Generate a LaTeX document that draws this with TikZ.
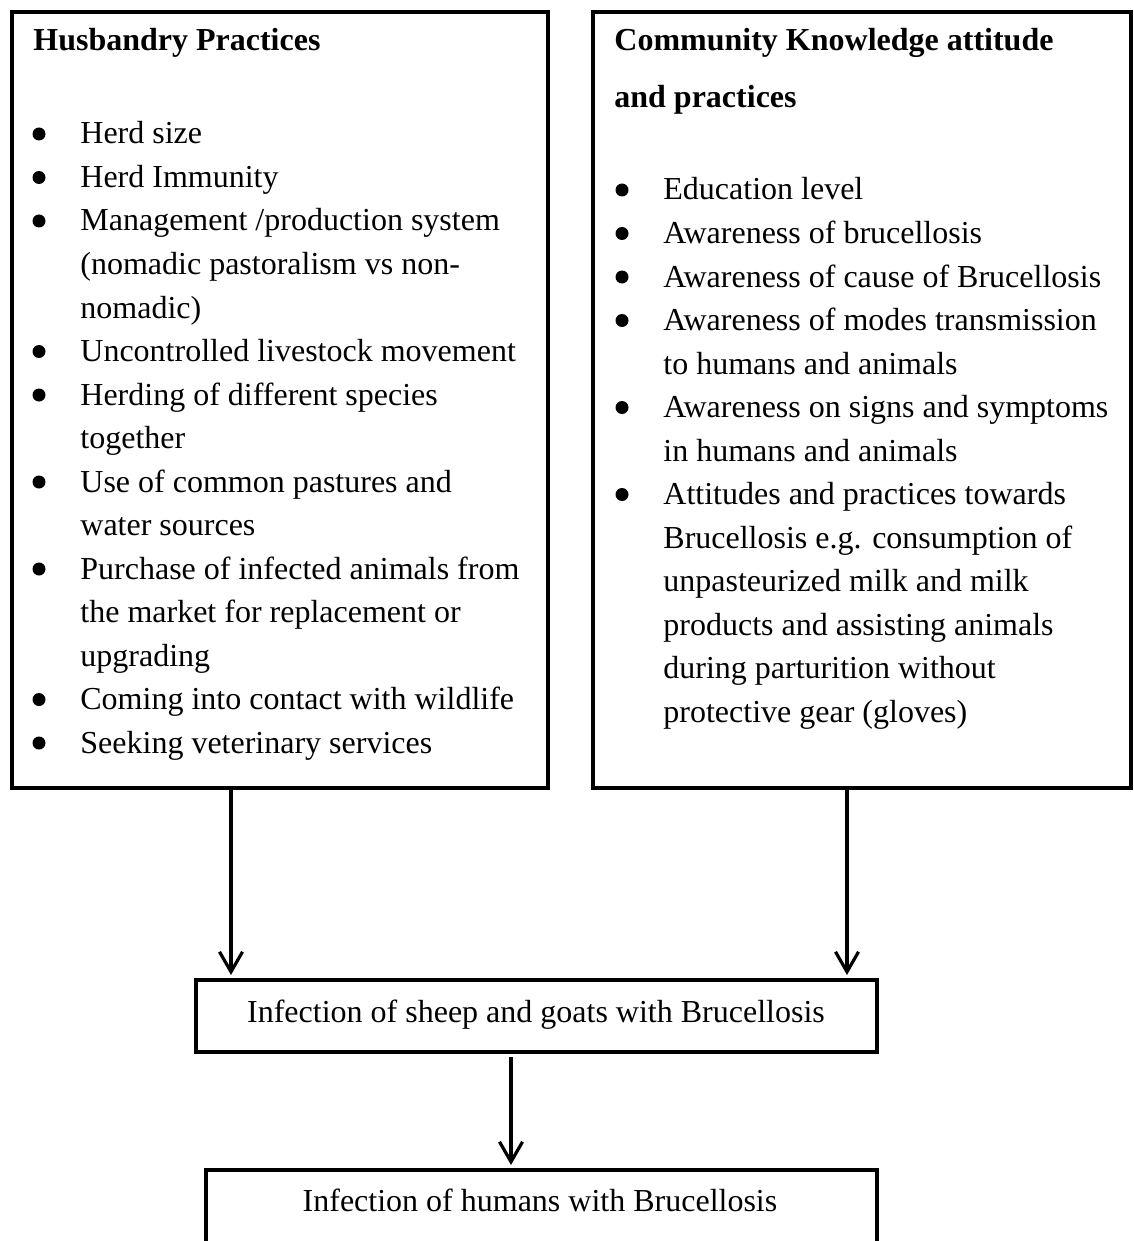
\documentclass[tikz,border=0pt]{standalone}
\usepackage{fontspec}
\setmainfont{Liberation Serif}
\usetikzlibrary{arrows.meta}
\begin{document}
\begin{tikzpicture}[x=0.5pt,y=-0.5pt,
  frame/.style={draw=black, line width=2pt, inner sep=0pt, outer sep=0pt, anchor=north west},
  txt/.style={inner sep=0pt, anchor=base west, font=\fontsize{16}{21.75}\selectfont},
  ttl/.style={inner sep=0pt, anchor=base west, font=\fontsize{16}{21.75}\selectfont\bfseries},
  bul/.style={circle, fill=black, inner sep=0pt, minimum size=6.5pt, yshift=5pt},
  ctr/.style={inner sep=0pt, anchor=base, font=\fontsize{16}{21.75}\selectfont},
  arr/.style={line width=1.6pt, -{Straight Barb[length=10pt,width=11.5pt,line width=1.6pt]}}
]
\useasboundingbox (0,0) rectangle (1134,1241);

% boxes
\node[frame, minimum width=268pt, minimum height=388pt] (lbox) at (12,12) {};
\node[frame, minimum width=269pt, minimum height=388pt] (rbox) at (593,12) {};
\node[frame, line width=1.75pt, minimum width=340.5pt, minimum height=36pt] (mid) at (196,980) {};
\node[frame, line width=1.75pt, minimum width=335.5pt, minimum height=75pt] (bot) at (206,1170) {};

% left box text
\node[ttl] (lt) at (33,51) {Husbandry Practices};
\node[bul] (lb1) at (39,144) {};
\node[txt] (l1) at (80,144) {Herd size};
\node[bul] (lb2) at (39,187.5) {};
\node[txt] (l2) at (80,187.5) {Herd Immunity};
\node[bul] (lb3) at (39,231) {};
\node[txt] (l3) at (80,231) {Management /production system};
\node[txt] (l4) at (80,274.5) {(nomadic pastoralism vs non-};
\node[txt] (l5) at (80,318) {nomadic)};
\node[bul] (lb4) at (39,361.5) {};
\node[txt] (l6) at (80,361.5) {Uncontrolled livestock movement};
\node[bul] (lb5) at (39,405) {};
\node[txt] (l7) at (80,405) {Herding of different species};
\node[txt] (l8) at (80,448.5) {together};
\node[bul] (lb6) at (39,492) {};
\node[txt] (l9) at (80,492) {Use of common pastures and};
\node[txt] (l10) at (80,535.5) {water sources};
\node[bul] (lb7) at (39,579) {};
\node[txt] (l11) at (80,579) {Purchase of infected animals from};
\node[txt] (l12) at (80,622.5) {the market for replacement or};
\node[txt] (l13) at (80,666) {upgrading};
\node[bul] (lb8) at (39,709.5) {};
\node[txt] (l14) at (80,709.5) {Coming into contact with wildlife};
\node[bul] (lb9) at (39,753) {};
\node[txt] (l15) at (80,753) {Seeking veterinary services};

% right box text
\node[ttl] (rt1) at (614,51) {Community Knowledge attitude};
\node[ttl] (rt2) at (614,108) {and practices};
\node[bul] (rb1) at (622,200) {};
\node[txt] (r1) at (663,200) {Education level};
\node[bul] (rb2) at (622,243.5) {};
\node[txt] (r2) at (663,243.5) {Awareness of brucellosis};
\node[bul] (rb3) at (622,287) {};
\node[txt] (r3) at (663,287) {Awareness of cause of Brucellosis};
\node[bul] (rb4) at (622,330.5) {};
\node[txt] (r4) at (663,330.5) {Awareness of modes transmission};
\node[txt] (r5) at (663,374) {to humans and animals};
\node[bul] (rb5) at (622,417.5) {};
\node[txt] (r6) at (663,417.5) {Awareness on signs and symptoms};
\node[txt] (r7) at (663,461) {in humans and animals};
\node[bul] (rb6) at (622,504.5) {};
\node[txt] (r8) at (663,504.5) {Attitudes and practices towards};
\node[txt] (r9) at (663,548) {Brucellosis e.g. consumption of};
\node[txt] (r10) at (663,591.5) {unpasteurized milk and milk};
\node[txt] (r11) at (663,635) {products and assisting animals};
\node[txt] (r12) at (663,678.5) {during parturition without};
\node[txt] (r13) at (663,722) {protective gear (gloves)};

% lower texts
\node[ctr] (mt) at (536,1022) {Infection of sheep and goats with Brucellosis};
\node[ctr] (bt) at (540,1211) {Infection of humans with Brucellosis};

% arrows
\coordinate (ax1) at (231,0);
\coordinate (ax2) at (847,0);
\coordinate (ax3) at (511,0);
\draw[arr, shorten >=2.5pt] (ax1 |- lbox.south) -- (ax1 |- mid.north);
\draw[arr, shorten >=2.5pt] (ax2 |- rbox.south) -- (ax2 |- mid.north);
\draw[arr, shorten <=2.5pt, shorten >=2.5pt] (ax3 |- mid.south) -- (ax3 |- bot.north);
\end{tikzpicture}
\end{document}
